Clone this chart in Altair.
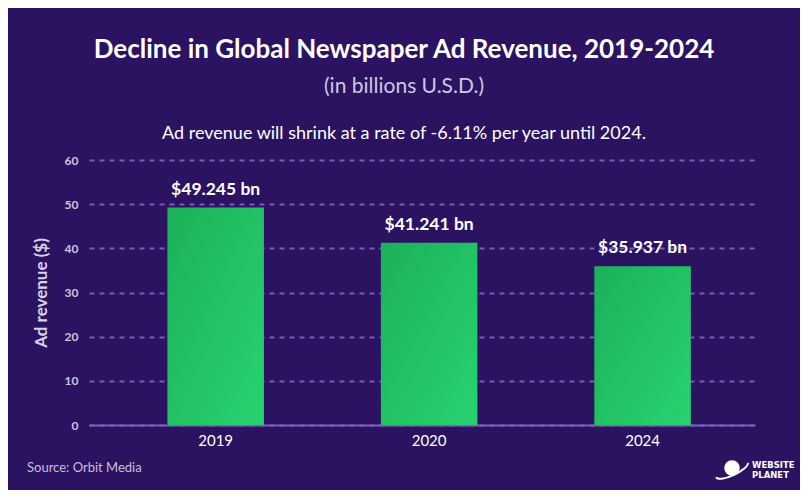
import altair as alt
import pandas as pd

# ---- data ----
years = ["2019", "2020", "2024"]
revenue = [49.245, 41.241, 35.937]
y_ticks = [0, 10, 20, 30, 40, 50, 60]

title_text = "Decline in Global Newspaper Ad Revenue, 2019-2024"
subtitle_text = "(in billions U.S.D.)"
note_text = "Ad revenue will shrink at a rate of -6.11% per year until 2024."
source_text = "Source: Orbit Media"
y_title = "Ad revenue ($)"
logo_lines = ["WEBSITE", "PLANET"]

df = pd.DataFrame({"year": years, "revenue": revenue})
df["label"] = ["$" + f"{v:.3f}" + " bn" for v in revenue]

BG = "#2b1361"
W, H = 666, 265
FONT = "Lato"

x_enc = alt.X(
    "year:N",
    sort=years,
    title=None,
    scale=alt.Scale(paddingInner=0.548, paddingOuter=0.334, align=0.55),
    axis=alt.Axis(
        labelAngle=0, labelColor="#ffffff", labelFont=FONT, labelFontSize=15,
        labelPadding=8, ticks=False, domain=True, domainColor="#7f60bb",
        domainWidth=2, grid=False,
    ),
)
y_enc = alt.Y(
    "revenue:Q",
    scale=alt.Scale(domain=[0, 60], nice=False),
    axis=alt.Axis(
        values=y_ticks, title=y_title, titleColor="#d9d2e6", titleFont=FONT,
        titleFontSize=17, titleFontWeight="bold", titlePadding=14,
        labelFont=FONT, labelFontWeight="bold", labelFontSize=12,
        labelColor="#cbc3da", labelPadding=11, ticks=False, domain=False,
        gridColor="#7a5bb5", gridDash=[5, 5], gridWidth=2,
    ),
)

base = alt.Chart(df)

bars = base.mark_bar(
    color=alt.Gradient(
        gradient="linear",
        stops=[alt.GradientStop(color="#1cb15a", offset=0),
               alt.GradientStop(color="#27d36f", offset=1)],
        x1=0, x2=1, y1=0, y2=1,
    )
).encode(x=x_enc, y=y_enc)

labels = base.mark_text(
    font=FONT, fontWeight="bold", fontSize=17.5, color="#ffffff",
    baseline="bottom", dy=-9,
).encode(x=alt.X("year:N", sort=years), y="revenue:Q", text="label:N")


def note(txt, px, py, **kw):
    return alt.Chart(pd.DataFrame({"t": [txt]})).mark_text(**kw).encode(
        x=alt.value(px), y=alt.value(py), text="t:N"
    )


t_main = note(title_text, 315, -102, font=FONT, fontWeight="bold", fontSize=26,
              color="#ffffff", align="center", baseline="alphabetic")
t_sub = note(subtitle_text, 315, -67, font=FONT, fontSize=21, color="#cfc6e2",
             align="center", baseline="alphabetic")
t_note = note(note_text, 315, -21, font=FONT, fontSize=18, color="#ffffff",
              align="center", baseline="alphabetic")
t_src = note(source_text, -62, 312, font=FONT, fontSize=13, color="#c6bedb",
             align="left", baseline="alphabetic")
t_logo1 = note(logo_lines[0], 663, 308, font="DejaVu Sans", fontWeight="bold",
               fontSize=8.5, color="#ffffff", align="left", baseline="alphabetic")
t_logo2 = note(logo_lines[1], 663, 318, font="DejaVu Sans", fontWeight="bold",
               fontSize=8.5, color="#ffffff", align="left", baseline="alphabetic")
logo_ball = alt.Chart(pd.DataFrame({"t": [1]})).mark_point(
    shape="circle", filled=True, color="#ffffff", size=240, opacity=1
).encode(x=alt.value(643), y=alt.value(308))
logo_ring = alt.Chart(pd.DataFrame({"t": [1]})).mark_point(
    shape="M-1,0.45 A1.05,0.32 -25 1 0 1,-0.45", filled=False, color="#ffffff",
    strokeWidth=2, size=1000, opacity=1
).encode(x=alt.value(643), y=alt.value(310))

chart = alt.layer(
    bars, labels, t_main, t_sub, t_note, t_src, t_logo1, t_logo2, logo_ball, logo_ring
).properties(
    width=W, height=H, background=BG,
    padding={"left": 81, "top": 152, "right": 45, "bottom": 65},
    autosize=alt.AutoSizeParams(type="none"),
).configure_view(stroke=None)

chart.save("out.html", embed_options={"renderer": "svg", "actions": False})
